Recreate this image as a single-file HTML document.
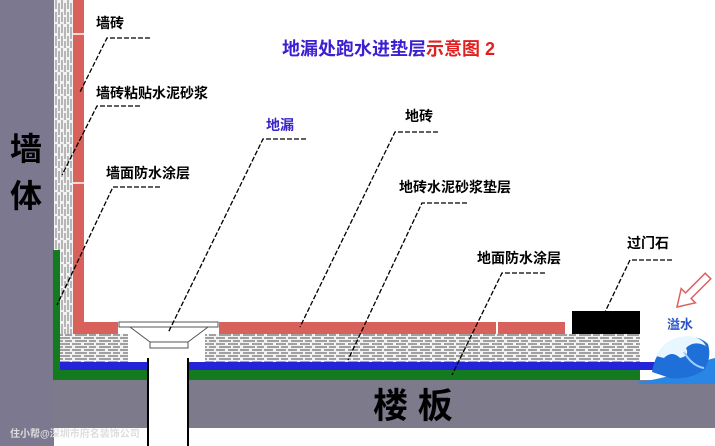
<!DOCTYPE html>
<html><head><meta charset="utf-8"><style>
body{margin:0;background:#fff}
svg{display:block}
text{font-family:"Liberation Sans","Noto Sans CJK SC",sans-serif;font-weight:bold}
</style></head><body>
<svg width="715" height="446" viewBox="0 0 715 446" xmlns="http://www.w3.org/2000/svg">
<defs>
<pattern id="m" width="24" height="6" patternUnits="userSpaceOnUse">
<rect width="24" height="6" fill="#f2f2f2"/>
<path d="M0 2 H9 M12 2 H22 M3 5 H15 M17 5 H24" stroke="#6e6e6e" stroke-width="1.2"/>
</pattern>
<pattern id="mv" width="6" height="24" patternUnits="userSpaceOnUse">
<rect width="6" height="24" fill="#f2f2f2"/>
<path d="M2 0 V9 M2 12 V22 M5 3 V15 M5 17 V24" stroke="#7a7a7a" stroke-width="1"/>
</pattern>
</defs>
<rect x="0" y="0" width="54" height="446" fill="#7b7890"/>
<rect x="54" y="0" width="19" height="334" fill="url(#mv)"/>
<rect x="60" y="250" width="13" height="84" fill="url(#mv)"/>
<rect x="73" y="0" width="11" height="322" fill="#d9615c"/>
<line x1="73" y1="34" x2="84" y2="34" stroke="#fff" stroke-width="1.5"/>
<line x1="73" y1="183" x2="84" y2="183" stroke="#fff" stroke-width="1.5"/>
<rect x="54" y="380" width="661" height="48" fill="#7d7a8c"/>
<rect x="60" y="334" width="68" height="28" fill="url(#m)"/>
<rect x="205" y="334" width="435" height="28" fill="url(#m)"/>
<rect x="73" y="322" width="45" height="12" fill="#d9615c"/>
<rect x="219" y="322" width="277" height="12" fill="#d9615c"/>
<rect x="498" y="322" width="67" height="12" fill="#d9615c"/>
<rect x="572" y="311" width="68" height="23" fill="#000"/>
<rect x="60" y="362" width="88" height="8" fill="#2323d8"/>
<rect x="188" y="362" width="527" height="8" fill="#2323d8"/>
<rect x="53" y="370" width="95" height="10" fill="#137a1f"/>
<rect x="188" y="370" width="452" height="10" fill="#137a1f"/>
<rect x="53" y="250" width="7" height="130" fill="#137a1f"/>
<rect x="148" y="358" width="40" height="88" fill="#fff"/>
<line x1="148" y1="358" x2="148" y2="446" stroke="#000" stroke-width="2"/>
<line x1="188" y1="358" x2="188" y2="446" stroke="#000" stroke-width="2"/>
<polygon points="130,327 208,327 188,342 150,342" fill="#fff" stroke="#555" stroke-width="1"/>
<rect x="150" y="342" width="38" height="6" fill="#fff" stroke="#555"/>
<rect x="119" y="322" width="99" height="5" fill="#fff" stroke="#555"/>
<!-- wave -->
<path d="M638 382 Q670 378 690 368 Q705 360 715 358 L715 384 L640 384 Z" fill="#2a86e4"/>
<path d="M652 372 Q656 346 678 338 Q698 334 708 344 Q712 358 704 370 Q690 380 670 378 Z" fill="#1f6fd8"/>
<path d="M656 356 Q666 336 690 336 Q702 338 706 346 Q694 340 686 348 Q690 356 680 358 Q672 350 664 358 Z" fill="#e8f6ff"/>
<path d="M684 352 Q692 366 704 368" stroke="#9fd0ff" stroke-width="2" fill="none"/>
<!-- arrow -->
<polygon points="677,307 695.4,302.8 691.1,298.5 710.8,278.8 705.2,273.2 685.5,292.9 681.2,288.6" fill="#fff" stroke="#e06060" stroke-width="1.5"/>
<text x="96" y="28" font-size="14">墙砖</text>
<text x="96" y="98" font-size="14">墙砖粘贴水泥砂浆</text>
<text x="106" y="178" font-size="14">墙面防水涂层</text>
<text x="266" y="130" font-size="14" fill="#3a26c8">地漏</text>
<text x="405" y="121" font-size="14">地砖</text>
<text x="399" y="192" font-size="14">地砖水泥砂浆垫层</text>
<text x="477" y="263" font-size="14">地面防水涂层</text>
<text x="627" y="248" font-size="14">过门石</text>
<text x="667" y="329" font-size="13" fill="#2a55c8">溢水</text>
<text x="282" y="55" font-size="18" fill="#3b1fd0">地漏处跑水进垫层<tspan fill="#e02020">示意图 2</tspan></text>
<text x="10" y="160" font-size="32">墙</text>
<text x="10" y="207" font-size="32">体</text>
<text x="373" y="418" font-size="35">楼 板</text>
<text x="10" y="437" font-size="10" font-weight="normal" fill="#ddd">住小帮@深圳市府名装饰公司</text>
<g stroke="#000" stroke-width="1.3" stroke-dasharray="5,2" fill="none">
<path d="M150 38 H107 L80 92"/>
<path d="M140 106 H97 L62 175"/>
<path d="M160 187 H113 L57 305"/>
<path d="M306 139 H263 L168 333"/>
<path d="M438 132 H395 L300 327"/>
<path d="M467 203 H422 L348 360"/>
<path d="M545 273 H502 L452 375"/>
<path d="M672 260 H630 L605 312"/>
</g>
</svg>
</body></html>
